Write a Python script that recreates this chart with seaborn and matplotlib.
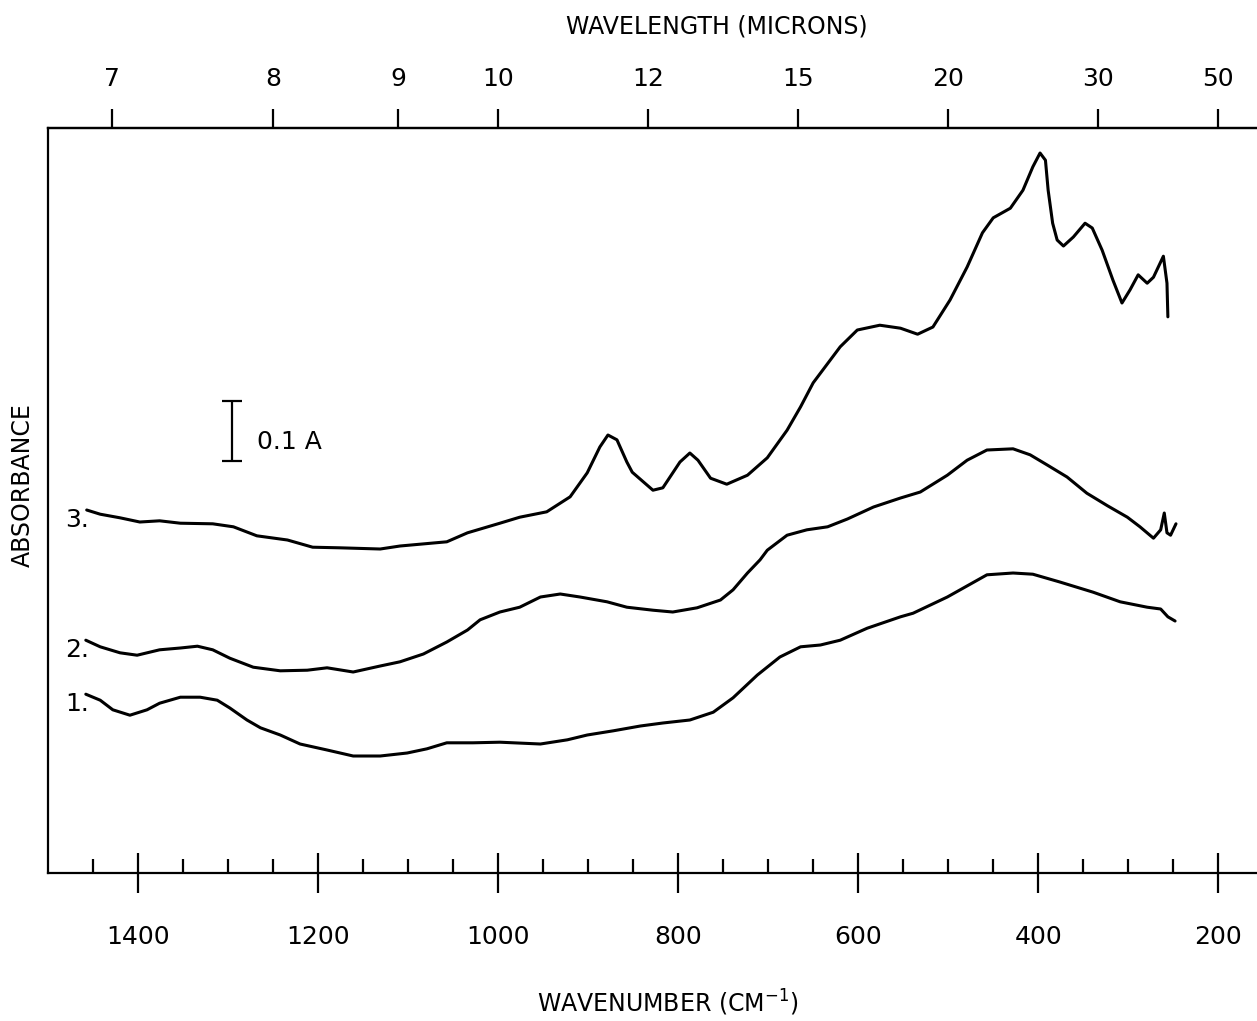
import numpy as np
import pandas as pd
import matplotlib
matplotlib.use("Agg")
import matplotlib.pyplot as plt
import seaborn as sns
from matplotlib.ticker import FixedLocator

# ---------------- data (wavenumber cm-1, absorbance relative to frame bottom) -------------
wn3 = [1457, 1442, 1420, 1398, 1376, 1353, 1317, 1294, 1268, 1234, 1206, 1176, 1131, 1109,
       1072, 1057, 1034, 998, 976, 946, 920, 901, 887, 878, 868, 857, 851, 828, 817, 798,
       787, 778, 764, 746, 723, 701, 679, 664, 650, 620, 601, 576, 553, 534, 517, 498, 479,
       462, 450, 431, 417, 406, 398, 392, 389, 384, 379, 372, 361, 348, 340, 329, 317, 307,
       298, 289, 279, 272, 261, 257, 256]
a3 = [0.605, 0.598, 0.592, 0.585, 0.587, 0.583, 0.582, 0.577, 0.562, 0.555, 0.543, 0.542,
      0.540, 0.545, 0.550, 0.552, 0.567, 0.583, 0.593, 0.602, 0.627, 0.667, 0.710, 0.730,
      0.722, 0.685, 0.668, 0.638, 0.642, 0.685, 0.700, 0.688, 0.658, 0.648, 0.663, 0.692,
      0.738, 0.777, 0.817, 0.877, 0.905, 0.913, 0.908, 0.898, 0.910, 0.955, 1.010, 1.067,
      1.092, 1.108, 1.138, 1.177, 1.200, 1.188, 1.138, 1.083, 1.055, 1.045, 1.060, 1.083,
      1.075, 1.038, 0.988, 0.950, 0.972, 0.997, 0.983, 0.993, 1.028, 0.983, 0.927]

wn2 = [1458, 1442, 1420, 1401, 1376, 1353, 1334, 1317, 1298, 1272, 1242, 1212, 1190, 1161,
       1131, 1109, 1083, 1057, 1034, 1020, 998, 976, 953, 931, 909, 879, 857, 828, 806, 779,
       753, 739, 723, 709, 701, 679, 657, 634, 612, 583, 553, 531, 501, 479, 457, 428, 409,
       390, 368, 346, 323, 301, 287, 272, 264, 260, 257, 253, 247]
a2 = [0.388, 0.377, 0.367, 0.363, 0.372, 0.375, 0.378, 0.372, 0.358, 0.343, 0.337, 0.338,
      0.342, 0.335, 0.345, 0.352, 0.365, 0.385, 0.405, 0.422, 0.435, 0.443, 0.460, 0.465,
      0.460, 0.452, 0.443, 0.438, 0.435, 0.442, 0.455, 0.472, 0.500, 0.522, 0.538, 0.563,
      0.572, 0.577, 0.590, 0.610, 0.625, 0.635, 0.663, 0.688, 0.705, 0.707, 0.697, 0.680,
      0.660, 0.633, 0.612, 0.593, 0.577, 0.558, 0.572, 0.600, 0.567, 0.563, 0.582]

wn1 = [1458, 1442, 1428, 1409, 1390, 1376, 1353, 1331, 1312, 1298, 1279, 1264, 1242, 1220,
       1190, 1161, 1131, 1101, 1079, 1057, 1028, 998, 983, 953, 923, 901, 872, 842, 817, 787,
       761, 739, 712, 687, 664, 642, 620, 590, 553, 539, 501, 457, 428, 406, 376, 339, 309,
       279, 264, 256, 248]
a1 = [0.298, 0.288, 0.272, 0.263, 0.272, 0.283, 0.293, 0.293, 0.288, 0.275, 0.255, 0.242,
      0.230, 0.215, 0.205, 0.195, 0.195, 0.200, 0.207, 0.217, 0.217, 0.218, 0.217, 0.215,
      0.222, 0.230, 0.237, 0.245, 0.250, 0.255, 0.268, 0.292, 0.330, 0.360, 0.377, 0.380,
      0.388, 0.408, 0.427, 0.433, 0.460, 0.497, 0.500, 0.498, 0.485, 0.468, 0.452, 0.443,
      0.440, 0.427, 0.420]

trace_names = ["1.", "2.", "3."]
wn_major = [1400, 1200, 1000, 800, 600, 400, 200]
wn_minor = [1450, 1350, 1300, 1250, 1150, 1100, 1050, 950, 900, 850, 750, 700, 650,
            550, 500, 450, 350, 300, 250]
micron_ticks = [7, 8, 9, 10, 12, 15, 20, 30, 50]
scale_bar_A = 0.1

# ---------------- build frame ----------------
df = pd.concat([
    pd.DataFrame({"wn": wn1, "A": a1, "trace": trace_names[0]}),
    pd.DataFrame({"wn": wn2, "A": a2, "trace": trace_names[1]}),
    pd.DataFrame({"wn": wn3, "A": a3, "trace": trace_names[2]}),
], ignore_index=True)

sns.set_style("white")
plt.rcParams["font.family"] = ["DejaVu Sans"]
plt.rcParams["mathtext.fontset"] = "dejavusans"

fig = plt.figure(figsize=(12.57, 10.21), dpi=100)
ax = fig.add_axes([48 / 1257, 148 / 1021, 1209 / 1257, 745 / 1021])

sns.lineplot(data=df, x="wn", y="A", hue="trace",
             palette={n: "black" for n in trace_names},
             sort=False, estimator=None, legend=False, linewidth=2.2, ax=ax,
             solid_joinstyle="round", solid_capstyle="round")

ax.set_xlim(1500, 157)
ax.set_ylim(0, 1.2417)
ax.set_xlabel("")
ax.set_ylabel("")
ax.set_yticks([])

for s in ["left", "bottom", "top"]:
    ax.spines[s].set_visible(True)
    ax.spines[s].set_color("black")
    ax.spines[s].set_linewidth(1.6)
ax.spines["right"].set_visible(False)

# bottom axis ticks
ax.set_xticks(wn_major, labels=[str(v) for v in wn_major], fontsize=18)
ax.xaxis.set_minor_locator(FixedLocator(wn_minor))
ax.tick_params(axis="x", which="major", direction="inout", length=29, width=1.6,
               pad=23, color="black", labelcolor="black", top=False, bottom=True)
ax.tick_params(axis="x", which="minor", direction="in", length=10, width=1.6,
               color="black", top=False, bottom=True)

ax.set_xlabel("WAVENUMBER (CM$^{-1}$)", fontsize=17, color="black")
ax.xaxis.set_label_coords(0.513, -0.154)
ax.set_ylabel("ABSORBANCE", fontsize=17, color="black")
ax.yaxis.set_label_coords(-0.011, 0.521)

# top axis (wavelength)
ax2 = ax.twiny()
ax2.set_xlim(ax.get_xlim())
ax2.set_xticks([1e4 / m for m in micron_ticks], labels=[str(m) for m in micron_ticks],
               fontsize=18)
ax2.tick_params(axis="x", which="major", direction="out", length=14, width=1.6,
                pad=13, color="black", labelcolor="black")
for s in ["left", "bottom", "right"]:
    ax2.spines[s].set_visible(False)
ax2.spines["top"].set_linewidth(1.6)
ax2.spines["top"].set_color("black")
ax2.set_xlabel("WAVELENGTH (MICRONS)", fontsize=17, color="black")
ax2.xaxis.set_label_coords(0.553, 1.127)

# curve labels
for name, w, a in [(trace_names[0], wn1, a1), (trace_names[1], wn2, a2), (trace_names[2], wn3, a3)]:
    ax.text(1481, a[0] - 0.016, name, fontsize=18, ha="left", va="center", color="black")

# scale bar
ax.errorbar([1296], [0.736], yerr=[scale_bar_A / 2], color="black", elinewidth=1.6,
            capsize=7, capthick=1.6, fmt="none")
ax.text(1268, 0.718, f"{scale_bar_A} A", fontsize=18, ha="left", va="center", color="black")

fig.savefig("out.png", dpi=100)
